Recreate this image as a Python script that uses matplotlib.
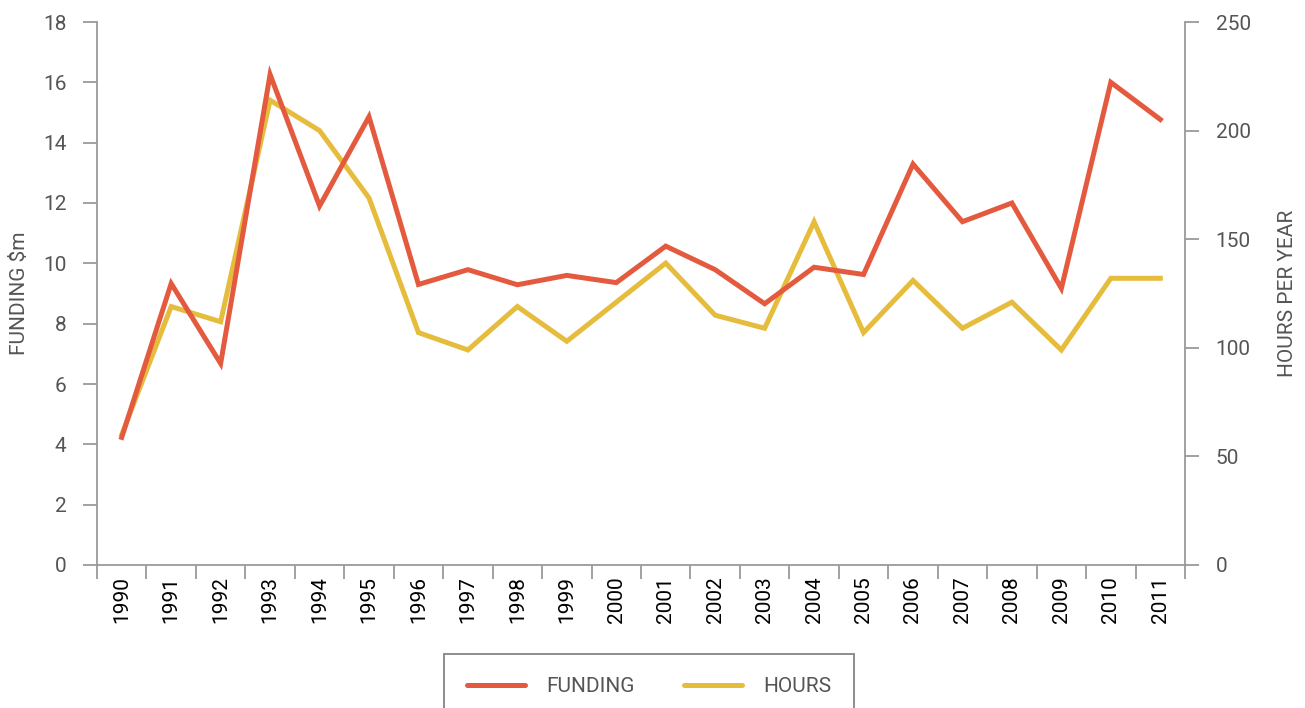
import matplotlib
matplotlib.use("Agg")
import matplotlib.pyplot as plt
import numpy as np

# ─── data ───
years = [str(y) for y in range(1990, 2012)]
funding = [4.23, 9.33, 6.68, 16.26, 11.9, 14.86, 9.3, 9.79, 9.29, 9.6, 9.36,
           10.57, 9.79, 8.66, 9.87, 9.63, 13.29, 11.38, 12.0, 9.17, 16.0, 14.77]
hours = [60, 119, 112, 214, 200, 169, 107, 99, 119, 103, 121,
         139, 115, 109, 158, 107, 131, 109, 121, 99, 132, 132]

RED = "#E45A3E"
YELLOW = "#E6BC3D"
GREY_TXT = "#555555"
GREY_AX = "#9A9A9A"

plt.rcParams["font.family"] = ["Roboto", "DejaVu Sans"]

fig = plt.figure(figsize=(13.05, 7.08), dpi=100)
ax = fig.add_axes([97 / 1305, 1 - 565 / 708, (1185 - 97) / 1305, (565 - 22) / 708])
ax2 = ax.twinx()

x = np.arange(len(years))
l1, = ax.plot(x, funding, color=RED, lw=3.6, solid_joinstyle="miter", label="FUNDING", zorder=3)
l2, = ax2.plot(x, hours, color=YELLOW, lw=3.6, solid_joinstyle="miter", label="HOURS", zorder=2)
ax.set_zorder(ax2.get_zorder() + 1)
ax.patch.set_visible(False)

ax.set_xlim(-0.5, len(years) - 0.5)
ax.set_ylim(0, 18)
ax2.set_ylim(0, 250)
ax.set_yticks(range(0, 19, 2))
ax2.set_yticks(range(0, 251, 50))

# category axis: ticks between years, labels centred
ax.set_xticks(np.arange(-0.5, len(years), 1.0))
ax.set_xticklabels([])
ax.set_xticks(x, minor=True)
ax.set_xticklabels(years, minor=True, rotation=90)
ax.tick_params(axis="x", which="minor", length=0, pad=8)

for a in (ax, ax2):
    for s in a.spines.values():
        s.set_visible(False)
    a.tick_params(colors=GREY_AX, labelcolor=GREY_TXT, labelsize=15, length=10, width=1.3)

ax.spines["left"].set_visible(True)
ax.spines["bottom"].set_visible(True)
ax2.spines["right"].set_visible(True)
for s in (ax.spines["left"], ax.spines["bottom"], ax2.spines["right"]):
    s.set_color(GREY_AX)
    s.set_linewidth(1.3)
ax.tick_params(axis="y", pad=12)
ax2.tick_params(axis="y", pad=12)
ax.tick_params(axis="x", which="minor", labelsize=15)

ax.set_ylabel("FUNDING $m", fontsize=15, color=GREY_TXT, labelpad=10)
ax2.set_ylabel("HOURS PER YEAR", fontsize=15, color=GREY_TXT, labelpad=20)

leg = fig.legend(handles=[l1, l2], loc="upper center",
                 bbox_to_anchor=(649 / 1305, 1 - 654 / 708), ncol=2,
                 fontsize=15, frameon=True, fancybox=False, handlelength=2.8,
                 columnspacing=2.4, borderpad=1.1, borderaxespad=0,
                 handletextpad=1.0, labelcolor=GREY_TXT)
leg.get_frame().set_edgecolor("#666666")
leg.get_frame().set_linewidth(1.3)
for h in leg.legend_handles:
    h.set_solid_capstyle("round")

fig.savefig("out.png", dpi=100)
